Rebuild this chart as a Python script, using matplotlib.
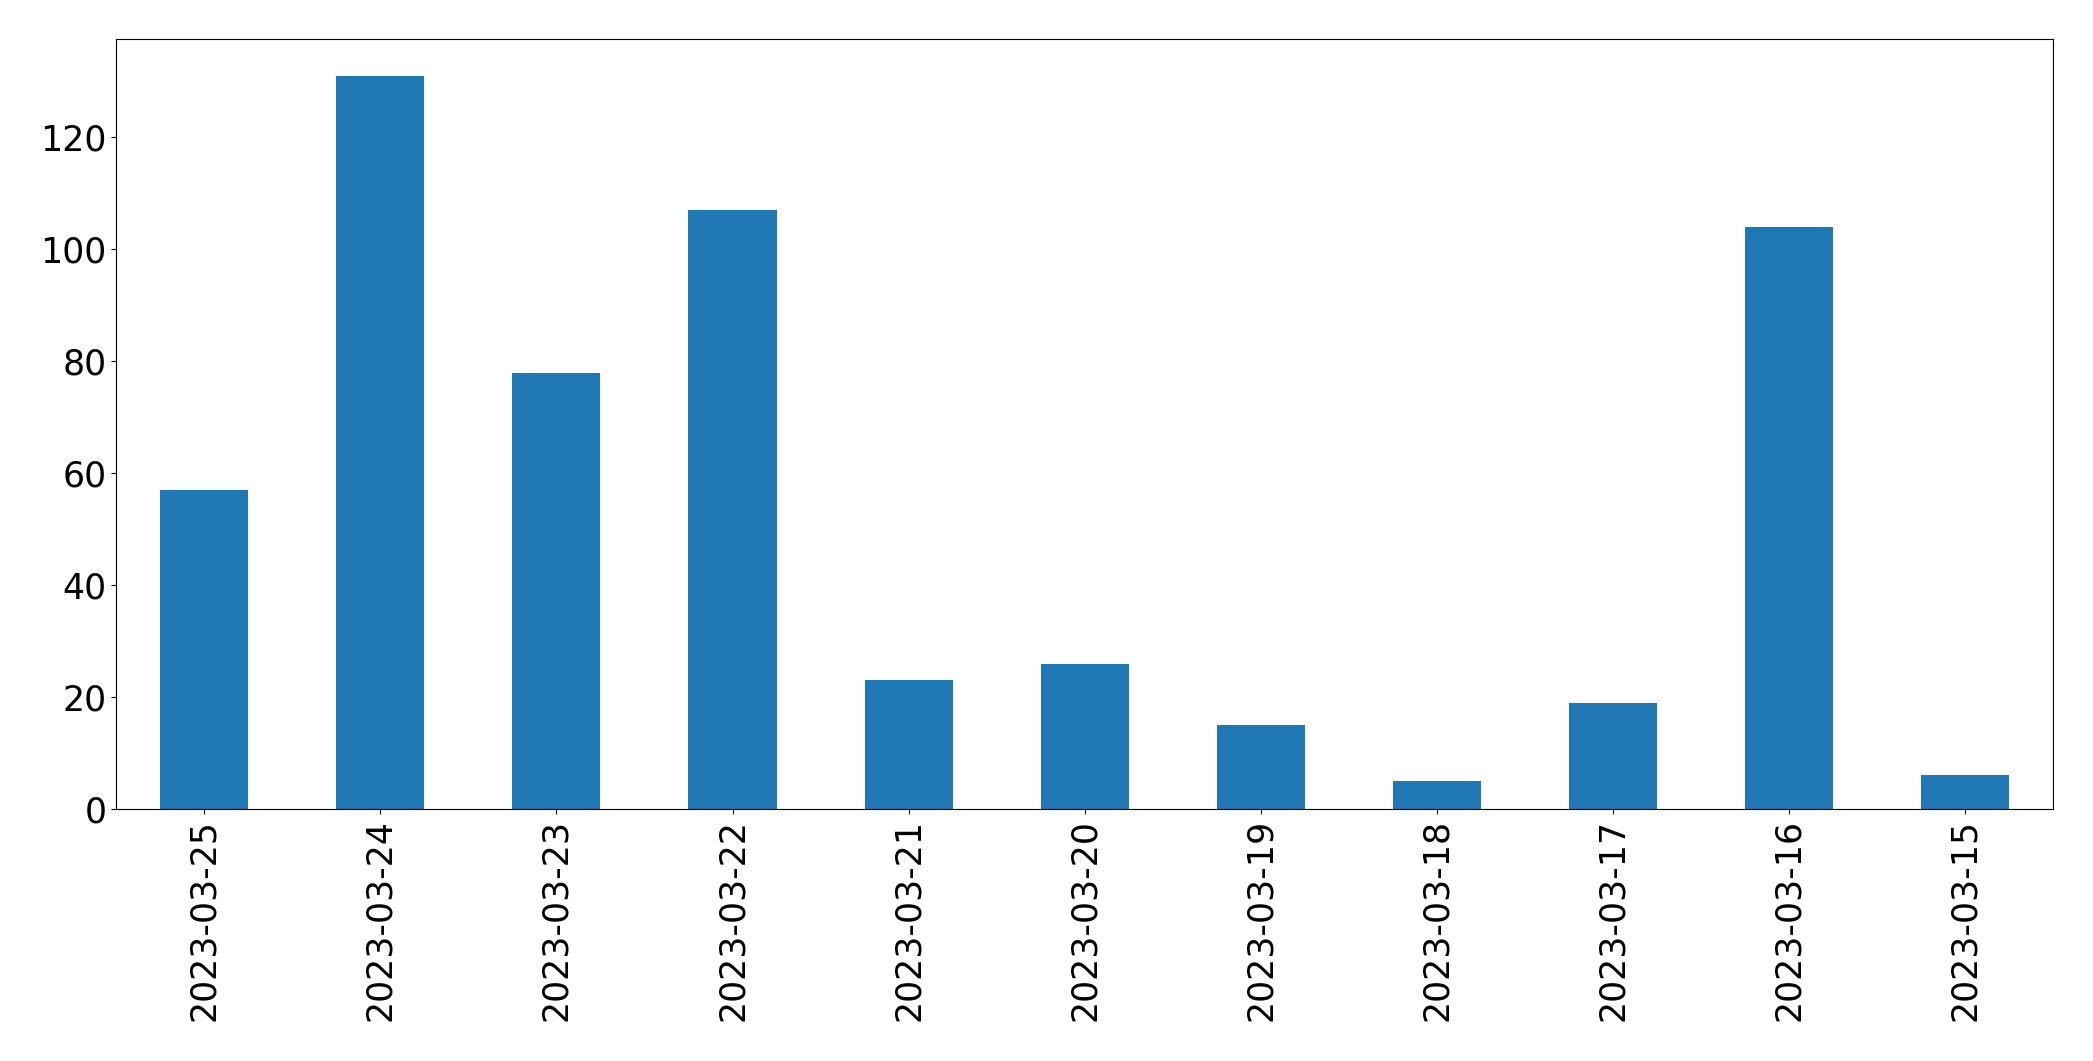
import matplotlib
matplotlib.use("Agg")
import matplotlib.pyplot as plt
import pandas as pd

dates = ["2023-03-25", "2023-03-24", "2023-03-23", "2023-03-22", "2023-03-21",
         "2023-03-20", "2023-03-19", "2023-03-18", "2023-03-17", "2023-03-16",
         "2023-03-15"]
counts = [57, 131, 78, 107, 23, 26, 15, 5, 19, 104, 6]

s = pd.Series(counts, index=dates)

fig, ax = plt.subplots(figsize=(20.93, 10.61), dpi=100)
s.plot(kind="bar", ax=ax, color="#1f77b4")
ax.tick_params(labelsize=25)
fig.subplots_adjust(left=0.0555, right=0.981, top=0.963, bottom=0.2375)
fig.savefig("out.png", dpi=100)
